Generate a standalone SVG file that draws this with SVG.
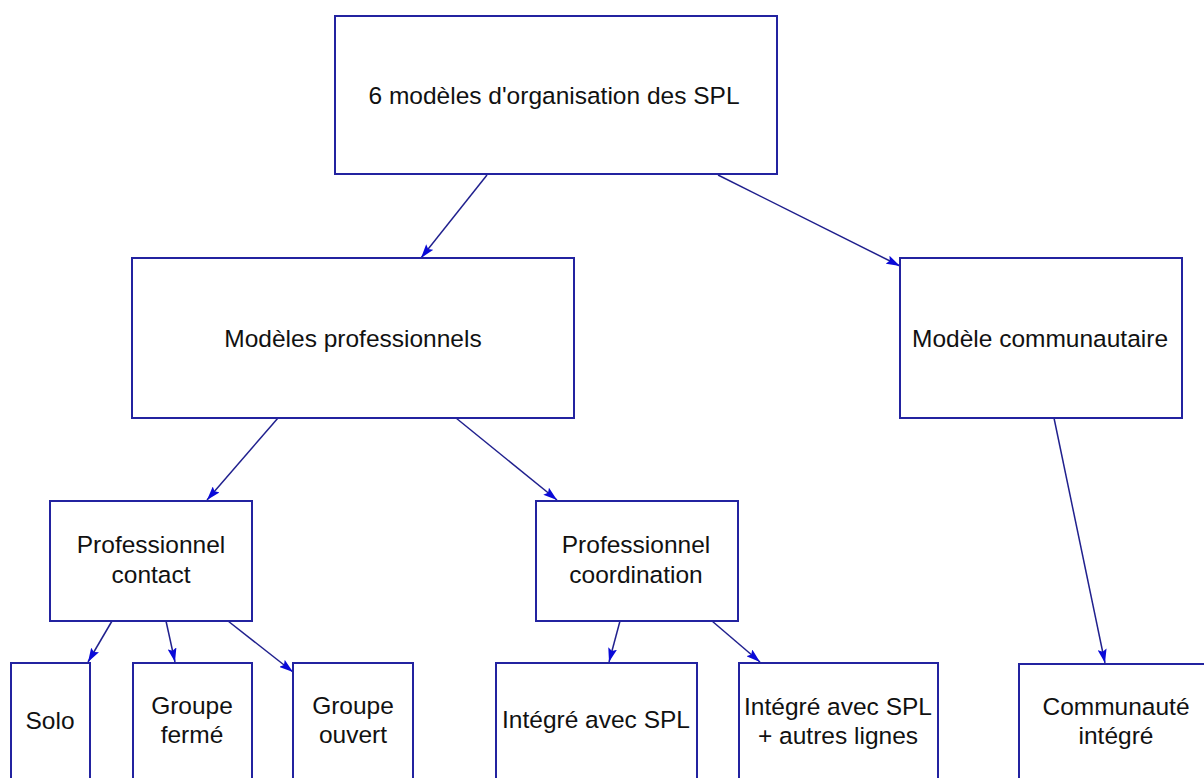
<svg xmlns="http://www.w3.org/2000/svg" width="1204" height="778" viewBox="0 0 1204 778">
  <defs>
    <marker id="arrow" viewBox="0 0 14 9" refX="14" refY="4.5" markerWidth="14" markerHeight="9" markerUnits="userSpaceOnUse" orient="auto">
      <path d="M0,0 L14,4.5 L0,9 L2.5,4.5 z" fill="#0a0ad8"/>
    </marker>
    <style>
      .box { fill: #ffffff; stroke: #2323a0; stroke-width: 2; }
      .lbl { font-family: "Liberation Sans", Arial, sans-serif; font-size: 24.5px; fill: #111111; text-anchor: middle; }
      .conn { stroke: #20208e; stroke-width: 1.5; fill: none; marker-end: url(#arrow); }
    </style>
  </defs>
  <rect x="0" y="0" width="1204" height="778" fill="#ffffff"/>

  <g id="connectors">
    <line class="conn" x1="487" y1="175" x2="421" y2="258"/>
    <line class="conn" x1="718" y1="175" x2="900" y2="266"/>
    <line class="conn" x1="278" y1="418" x2="207" y2="500"/>
    <line class="conn" x1="456" y1="418" x2="557" y2="500"/>
    <line class="conn" x1="1054" y1="418" x2="1105" y2="663"/>
    <line class="conn" x1="112" y1="621" x2="88" y2="662"/>
    <line class="conn" x1="166" y1="621" x2="175" y2="662"/>
    <line class="conn" x1="228" y1="621" x2="293" y2="672"/>
    <line class="conn" x1="620" y1="621" x2="609" y2="662"/>
    <line class="conn" x1="712" y1="621" x2="760" y2="662"/>
  </g>

  <g id="root">
    <rect class="box" x="335" y="16" width="442" height="158"/>
    <text class="lbl" x="554" y="104">6 modèles d'organisation des SPL</text>
  </g>

  <g id="professionnels">
    <rect class="box" x="132" y="258" width="442" height="160"/>
    <text class="lbl" x="353" y="347">Modèles professionnels</text>
  </g>

  <g id="communautaire">
    <rect class="box" x="900" y="258" width="282" height="160"/>
    <text class="lbl" x="1040" y="347">Modèle communautaire</text>
  </g>

  <g id="contact">
    <rect class="box" x="50" y="501" width="202" height="120"/>
    <text class="lbl" x="151" y="553">Professionnel</text>
    <text class="lbl" x="151" y="583">contact</text>
  </g>

  <g id="coordination">
    <rect class="box" x="536" y="501" width="202" height="120"/>
    <text class="lbl" x="636" y="553">Professionnel</text>
    <text class="lbl" x="636" y="583">coordination</text>
  </g>

  <g id="solo">
    <rect class="box" x="11" y="663" width="79" height="130"/>
    <text class="lbl" x="50" y="729">Solo</text>
  </g>

  <g id="groupe-ferme">
    <rect class="box" x="133" y="663" width="119" height="130"/>
    <text class="lbl" x="192" y="714">Groupe</text>
    <text class="lbl" x="192" y="743">fermé</text>
  </g>

  <g id="groupe-ouvert">
    <rect class="box" x="293" y="663" width="120" height="130"/>
    <text class="lbl" x="353" y="714">Groupe</text>
    <text class="lbl" x="353" y="743">ouvert</text>
  </g>

  <g id="integre-spl">
    <rect class="box" x="496" y="663" width="201" height="130"/>
    <text class="lbl" x="596" y="728">Intégré avec SPL</text>
  </g>

  <g id="integre-autres">
    <rect class="box" x="739" y="663" width="199" height="130"/>
    <text class="lbl" x="838" y="715">Intégré avec SPL</text>
    <text class="lbl" x="838" y="744">+ autres lignes</text>
  </g>

  <g id="communaute">
    <rect class="box" x="1019" y="664" width="195" height="130"/>
    <text class="lbl" x="1116" y="715">Communauté</text>
    <text class="lbl" x="1116" y="744">intégré</text>
  </g>
</svg>
